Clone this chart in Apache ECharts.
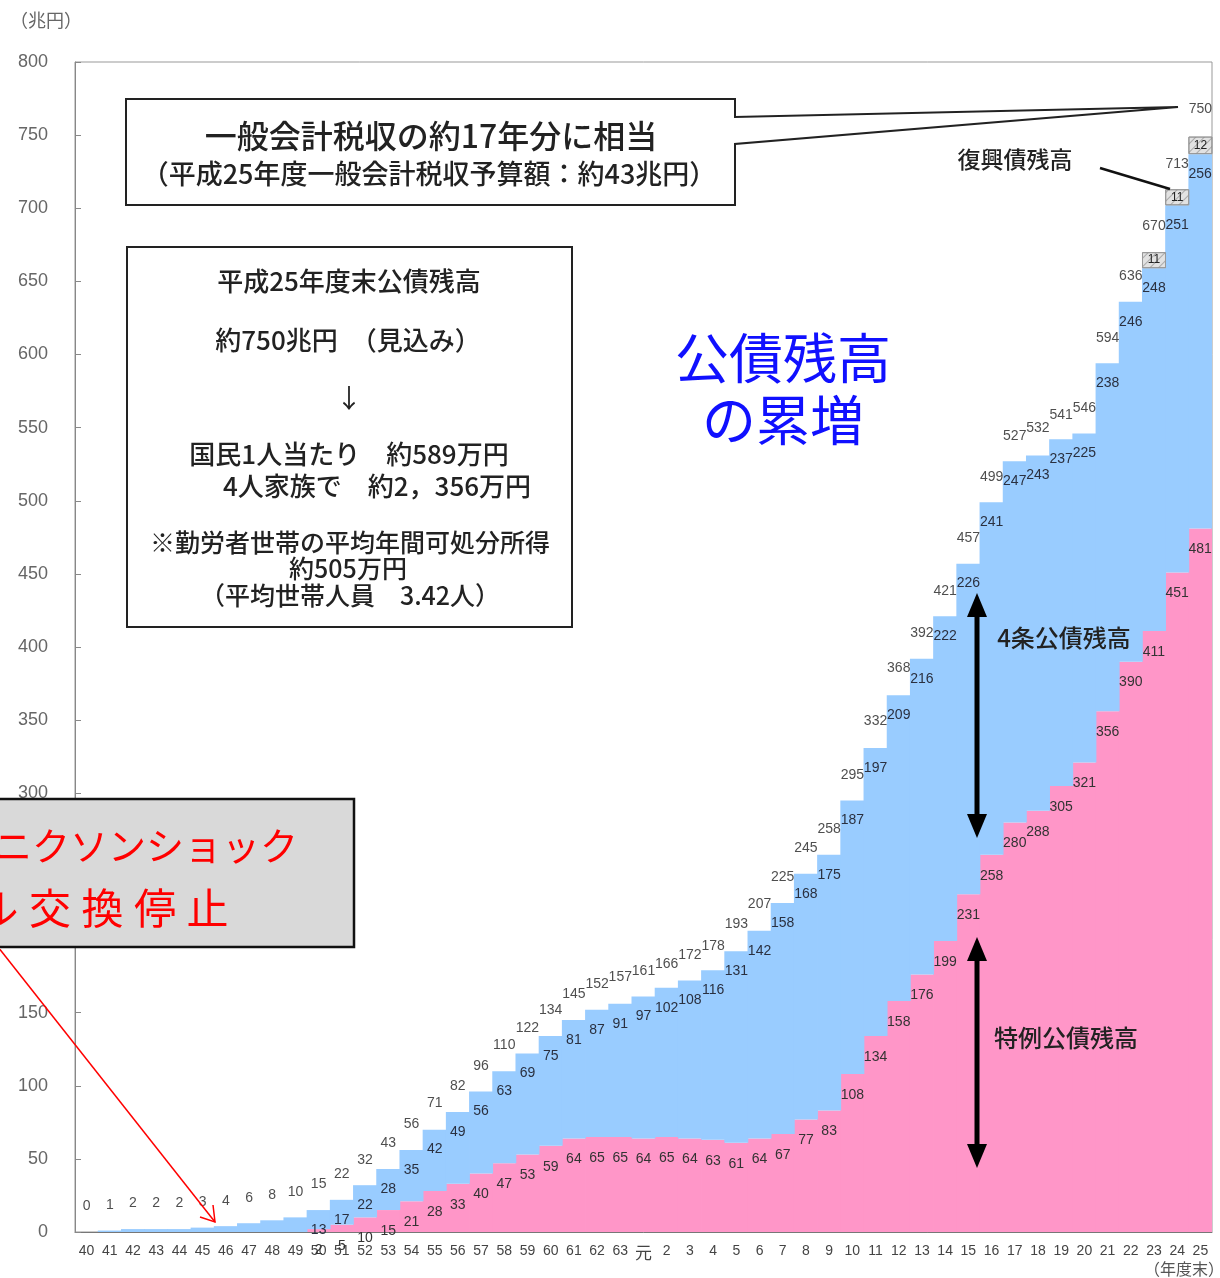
<!DOCTYPE html>
<html><head><meta charset="utf-8">
<script src="https://cdn.jsdelivr.net/npm/echarts/dist/echarts.min.js"></script>
<style>html,body{margin:0;padding:0;background:#fff}#c{width:1220px;height:1278px}</style>
</head><body><div id="c"></div>
<script>
// 年度 (昭和40〜63, 平成元〜25)
const years = ['40','41','42','43','44','45','46','47','48','49','50','51','52','53','54','55','56','57','58','59','60','61','62','63',
  '元','2','3','4','5','6','7','8','9','10','11','12','13','14','15','16','17','18','19','20','21','22','23','24','25'];
// 特例公債残高 (兆円)
const tokurei = [null,null,null,null,null,null,null,null,null,null,
  2,5,10,15,21,28,33,40,47,53,59,64,65,65,
  64,65,64,63,61,64,67,77,83,108,134,158,176,199,231,258,280,288,305,321,356,390,411,451,481];
// 4条公債残高 (兆円)
const kensetsu = [0,1,2,2,2,3,4,6,8,10,
  13,17,22,28,35,42,49,56,63,69,75,81,87,91,
  97,102,108,116,131,142,158,168,175,187,197,209,216,222,226,241,247,243,237,225,238,246,248,251,256];
// 復興債残高 (兆円)
const fukkou = [null,null,null,null,null,null,null,null,null,null,null,null,null,null,null,null,null,null,null,null,null,null,null,null,
  null,null,null,null,null,null,null,null,null,null,null,null,null,null,null,null,null,null,null,null,null,null,11,11,12];
// 公債残高 合計 (兆円)
const totals = [0,1,2,2,2,3,4,6,8,10,15,22,32,43,56,71,82,96,110,122,134,145,152,157,
  161,166,172,178,193,207,225,245,258,295,332,368,392,421,457,499,527,532,541,546,594,636,670,713,750];
const yTicks = [0,50,100,150,200,250,300,350,400,450,500,550,600,650,700,750,800];

const JP = "'Noto Sans CJK JP','Noto Sans',sans-serif";
const NUM = "'Liberation Sans',Arial,sans-serif";
const chart = echarts.init(document.getElementById('c'));

function txt(text, x, y, size, opts) {
  opts = opts || {};
  return {type:'text', z: opts.z || 120, silent:true, style:{text:text, x:x, y:y,
    font: (opts.weight||'normal') + ' ' + size + 'px ' + (opts.family||JP),
    fill: opts.fill || '#222', textAlign: opts.align || 'center', textVerticalAlign:'middle'}};
}
function dblArrow(x, y1, y2) {
  return [
    {type:'line', z:110, silent:true, shape:{x1:x,y1:y1+18,x2:x,y2:y2-18}, style:{stroke:'#000', lineWidth:5}},
    {type:'polygon', z:110, silent:true, shape:{points:[[x,y1],[x-10,y1+24],[x+10,y1+24]]}, style:{fill:'#000'}},
    {type:'polygon', z:110, silent:true, shape:{points:[[x,y2],[x-10,y2-24],[x+10,y2-24]]}, style:{fill:'#000'}}
  ];
}

const graphics = [
  txt('（兆円）', 46, 20, 18, {fill:'#666'}),
  txt('（年度末）', 1184, 1269, 16, {fill:'#555'}),
  {type:'polygon', z:100, silent:true, shape:{points:[[126,99],[735,99],[735,117],[1178,107],[735,144],[735,205],[126,205]]},
    style:{fill:'#fff', stroke:'#222', lineWidth:2}},
  txt('一般会計税収の約17年分に相当', 431, 136, 32, {weight:500}),
  txt('（平成25年度一般会計税収予算額：約43兆円）', 429, 174, 27, {weight:500}),
  {type:'rect', z:100, silent:true, shape:{x:127,y:247,width:445,height:380}, style:{fill:'#fff', stroke:'#222', lineWidth:2}},
  txt('平成25年度末公債残高', 349, 281, 26, {weight:500}),
  txt('約750兆円　（見込み）', 348, 340, 26, {weight:500}),
  txt('↓', 349, 398, 26),
  txt('国民1人当たり　約589万円', 349, 454, 26, {weight:500}),
  txt('4人家族で　約2，356万円', 377, 486, 26, {weight:500}),
  txt('※勤労者世帯の平均年間可処分所得', 350, 542, 25, {weight:500}),
  txt('約505万円', 348, 568, 25, {weight:500}),
  txt('（平均世帯人員　3.42人）', 350, 595, 25, {weight:500}),
  txt('公債残高', 783, 358, 54, {fill:'#1010ff'}),
  txt('の累増', 783, 420, 54, {fill:'#1010ff'}),
  txt('4条公債残高', 1064, 638, 24, {weight:500}),
  txt('特例公債残高', 1066, 1038, 24, {weight:500}),
  txt('復興債残高', 1015, 159, 23, {weight:500}),
  {type:'line', z:110, silent:true, shape:{x1:1100,y1:168,x2:1170,y2:189}, style:{stroke:'#111', lineWidth:2.5}},
  ...dblArrow(977, 593, 838),
  ...dblArrow(977, 937, 1168),
  {type:'rect', z:130, silent:true, shape:{x:-10,y:799,width:364,height:148}, style:{fill:'#d9d9d9', stroke:'#111', lineWidth:2.5}},
  txt('ニクソンショック', -6, 846, 38, {fill:'#ff0000', align:'left', z:131}),
  {type:'line', z:132, silent:true, shape:{x1:-2,y1:947,x2:215,y2:1222}, style:{stroke:'#ff0000', lineWidth:1.5}},
  {type:'polyline', z:132, silent:true, shape:{points:[[200,1217],[215,1222],[213,1205]]}, style:{stroke:'#ff0000', lineWidth:1.5, fill:null}}
];
['ド','ル','交','換','停','止'].forEach((c, i) => {
  graphics.push(txt(c, -55 + i * 52.5, 908, 42, {fill:'#ff0000', z:131}));
});

const lbl = {fontFamily: NUM, fontSize: 14, color: '#333'};

chart.setOption({
  animation: false,
  backgroundColor: '#fff',
  grid: {left:75, right:8, top:62, bottom:46, show:true, borderColor:'#999', borderWidth:1},
  xAxis: {
    type:'category', data: years, boundaryGap: true,
    axisLine: {lineStyle:{color:'#777'}},
    axisTick: {inside:true, length:5, alignWithLabel:false, interval:0, lineStyle:{color:'#666'}},
    axisLabel: {interval:0, fontSize:14, color:'#444', margin:12, fontFamily: NUM,
      formatter: v => v === '元' ? '{g|元}' : v,
      rich: {g:{fontSize:17, fontFamily: JP, color:'#444'}}},
    splitLine: {show:false}
  },
  yAxis: {
    type:'value', min: yTicks[0], max: yTicks[yTicks.length-1], interval: 50,
    axisLine: {show:true, lineStyle:{color:'#888'}},
    axisTick: {show:true, inside:true, length:6, lineStyle:{color:'#888'}},
    axisLabel: {fontSize:18, color:'#666', margin:27, fontFamily: NUM},
    splitLine: {show:false}
  },
  series: [
    {name:'特例公債残高', type:'bar', stack:'a', data: tokurei, barWidth:24, silent:true,
      itemStyle:{color:'#ff96c8', borderWidth:0},
      label: Object.assign({show:true, position:'insideTop', distance:14}, lbl)},
    {name:'4条公債残高', type:'bar', stack:'a', data: kensetsu, barWidth:24, silent:true,
      itemStyle:{color:'#99ccff', borderWidth:0},
      label: Object.assign({show:true, position:'insideTop', distance:13,
        formatter: p => tokurei[p.dataIndex] == null ? '' : p.value}, lbl, {color:'#2a3040'})},
    {name:'復興債残高', type:'bar', stack:'a', data: fukkou, barWidth:24, silent:true,
      itemStyle:{color:'#e2e2e2', borderColor:'#999', borderWidth:1,
        decal:{symbol:'rect', color:'rgba(0,0,0,0.25)', dashArrayX:[1,0], dashArrayY:[1,5], rotation:-Math.PI/4}},
      label: {show:true, position:'inside', fontSize:12, color:'#222', fontFamily: NUM}},
    {name:'合計', type:'scatter', data: totals, symbolSize:1, silent:true,
      itemStyle:{color:'rgba(0,0,0,0)'},
      label: Object.assign({show:true, position:'top', distance:18}, lbl, {color:'#222'})}
  ],
  graphic: graphics
});
</script></body></html>
